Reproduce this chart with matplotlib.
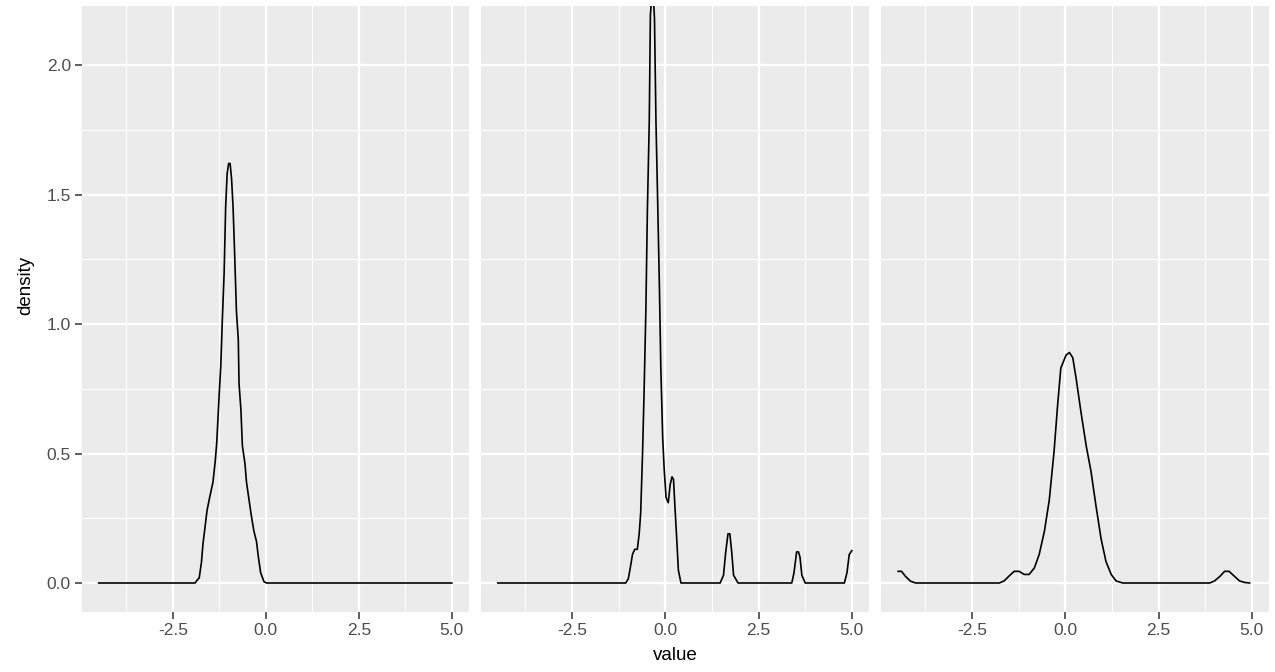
import matplotlib
matplotlib.use("Agg")
import matplotlib.pyplot as plt
import numpy as np

plt.rcParams['font.family'] = ['Liberation Sans', 'DejaVu Sans']

# ---- data ----
x1 = [-4.49, -1.90, -1.85, -1.79, -1.73, -1.69, -1.63, -1.58, -1.51, -1.42, -1.36, -1.32,
      -1.26, -1.21, -1.17, -1.12, -1.08, -1.04, -1.00, -0.96, -0.92, -0.88, -0.84, -0.79,
      -0.74, -0.72, -0.67, -0.63, -0.56, -0.52, -0.45, -0.39, -0.32, -0.25, -0.20, -0.14,
      -0.05, 0.02, 5.00]
y1 = [0.0, 0.0, 0.01, 0.02, 0.08, 0.15, 0.22, 0.28, 0.33, 0.39, 0.47, 0.54,
      0.71, 0.84, 1.01, 1.20, 1.45, 1.58, 1.62, 1.62, 1.56, 1.45, 1.28, 1.05,
      0.94, 0.77, 0.67, 0.53, 0.46, 0.39, 0.32, 0.26, 0.20, 0.16, 0.10, 0.04,
      0.005, 0.0, 0.0]

x2 = [-4.49, -1.06, -0.99, -0.93, -0.88, -0.82, -0.75, -0.70, -0.66, -0.61, -0.57, -0.52,
      -0.48, -0.43, -0.40, -0.34, -0.29, -0.25, -0.21, -0.16, -0.12, -0.07, -0.03, 0.02,
      0.08, 0.13, 0.18, 0.22, 0.26, 0.31, 0.35, 0.42, 1.47, 1.56, 1.62, 1.68, 1.73, 1.78,
      1.83, 1.95, 3.39, 3.45, 3.52, 3.57, 3.61, 3.66, 3.75, 4.80, 4.87, 4.93, 5.00]
y2 = [0.0, 0.0, 0.017, 0.066, 0.11, 0.13, 0.13, 0.19, 0.27, 0.50, 0.73, 1.06,
      1.44, 1.78, 2.19, 2.32, 2.18, 1.78, 1.51, 1.16, 0.83, 0.56, 0.44, 0.33,
      0.31, 0.38, 0.41, 0.40, 0.29, 0.16, 0.05, 0.0, 0.0, 0.03, 0.12, 0.19, 0.19, 0.12,
      0.03, 0.0, 0.0, 0.04, 0.12, 0.12, 0.10, 0.03, 0.0, 0.0, 0.04, 0.11, 0.125]

x3 = [-4.48, -4.39, -4.28, -4.15, -4.01, -1.77, -1.64, -1.50, -1.37, -1.24, -1.10, -0.97,
      -0.83, -0.70, -0.56, -0.43, -0.30, -0.21, -0.12, 0.02, 0.11, 0.20, 0.29, 0.42,
      0.56, 0.69, 0.82, 0.96, 1.09, 1.23, 1.36, 1.54, 3.87, 4.00, 4.14, 4.27, 4.39,
      4.54, 4.67, 4.81, 4.94]
y3 = [0.045, 0.045, 0.025, 0.007, 0.0, 0.0, 0.008, 0.028, 0.045, 0.045, 0.033, 0.033,
      0.058, 0.11, 0.20, 0.32, 0.51, 0.68, 0.83, 0.88, 0.89, 0.87, 0.79, 0.66,
      0.53, 0.43, 0.30, 0.17, 0.083, 0.033, 0.008, 0.0, 0.0, 0.008, 0.025, 0.045, 0.045,
      0.025, 0.008, 0.002, 0.0]

series = [(x1, y1), (x2, y2), (x3, y3)]

x_major = [-2.5, 0.0, 2.5, 5.0]
x_minor = [-3.75, -1.25, 1.25, 3.75]
y_major = [0.0, 0.5, 1.0, 1.5, 2.0]
y_minor = [0.25, 0.75, 1.25, 1.75]
x_labels = ["-2.5", "0.0", "2.5", "5.0"]
y_labels = ["0.0", "0.5", "1.0", "1.5", "2.0"]

W, H = 1275, 672
fig = plt.figure(figsize=(W / 100, H / 100), dpi=100)
fig.patch.set_facecolor("white")

panels_px = [(82, 469), (481, 869), (881, 1269)]
top_px, bot_px = 6, 612

for i, ((l, r), (xs, ys)) in enumerate(zip(panels_px, series)):
    ax = fig.add_axes([l / W, 1 - bot_px / H, (r - l) / W, (bot_px - top_px) / H])
    ax.set_facecolor("#EBEBEB")
    ax.set_xlim(-4.94, 5.46)
    ax.set_ylim(-0.112, 2.228)
    for s in ax.spines.values():
        s.set_visible(False)
    for v in x_minor:
        ax.axvline(v, color="white", lw=0.8, zorder=0)
    for v in y_minor:
        ax.axhline(v, color="white", lw=0.8, zorder=0)
    for v in x_major:
        ax.axvline(v, color="white", lw=1.6, zorder=0)
    for v in y_major:
        ax.axhline(v, color="white", lw=1.6, zorder=0)
    ax.plot(xs, ys, color="black", lw=1.2, zorder=3)
    ax.set_xticks(x_major)
    ax.set_xticklabels(x_labels)
    ax.tick_params(axis="x", length=5, width=1.1, color="#333333",
                   labelcolor="#4D4D4D", labelsize=12.5, pad=3)
    if i == 0:
        ax.set_yticks(y_major)
        ax.set_yticklabels(y_labels)
        ax.tick_params(axis="y", length=5, width=1.1, color="#333333",
                       labelcolor="#4D4D4D", labelsize=12.5, pad=3)
    else:
        ax.set_yticks([])

fig.text(675 / W, 1 - 655 / H, "value", ha="center", va="center", fontsize=13.5, color="black")
fig.text(26 / W, 1 - 285 / H, "density", ha="center", va="center", rotation=90,
         fontsize=13.5, color="black")

fig.savefig("out.png", dpi=100, facecolor="white")
